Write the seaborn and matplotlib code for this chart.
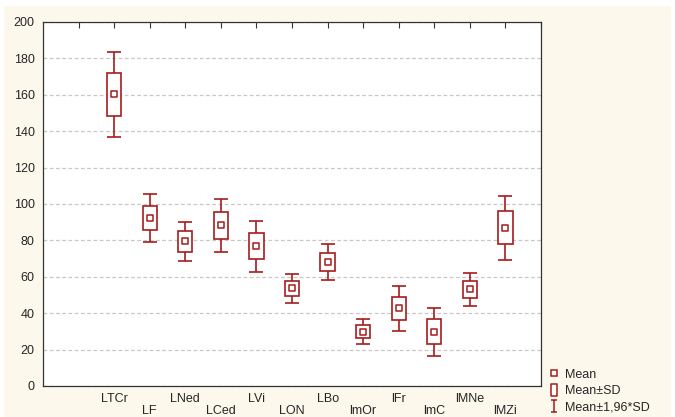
import matplotlib
matplotlib.use("Agg")
import matplotlib.pyplot as plt
import matplotlib.patches as mpatches
from matplotlib.lines import Line2D
from matplotlib.path import Path
import numpy as np
import pandas as pd
import seaborn as sns

# values (mean and standard deviation per variable)
labels = ["LTCr", "LF", "LNed", "LCed", "LVi", "LON",
          "LBo", "lmOr", "lFr", "lmC", "lMNe", "lMZi"]
means = [160.2, 92.3, 79.4, 88.2, 76.8, 53.7,
         68.2, 29.8, 42.6, 29.8, 53.1, 87.0]
sds = [12.0, 6.8, 5.6, 7.5, 7.1, 4.0,
       5.1, 3.5, 6.2, 6.8, 4.6, 9.0]

RED = "#a51c1c"
CREAM = "#fdf8ec"

df = pd.DataFrame({"label": labels, "mean": means, "sd": sds})
df["pos"] = np.arange(len(df))

sns.set_style("white")
plt.rcParams["font.family"] = ["Liberation Sans", "DejaVu Sans"]

fig = plt.figure(figsize=(6.75, 4.17), dpi=100)
fig.patch.set_facecolor("white")
fig.patches.append(mpatches.Rectangle((4 / 675, 0), 667 / 675, 1 - 6 / 417,
                                      transform=fig.transFigure, facecolor=CREAM,
                                      edgecolor="none", zorder=-10))
ax = fig.add_axes([43 / 675, 31 / 417, 498 / 675, 364 / 417])
ax.set_facecolor("white")

# whiskers: mean +/- 1.96*SD
ax.errorbar(df["pos"], df["mean"], yerr=1.96 * df["sd"], fmt="none",
            ecolor=RED, elinewidth=1.2, capsize=5, capthick=1.2, zorder=2)
# boxes: mean +/- SD
ax.bar(df["pos"], 2 * df["sd"], bottom=df["mean"] - df["sd"], width=0.4,
       color="white", edgecolor=RED, linewidth=1.2, zorder=3)
# means
sns.scatterplot(data=df, x="pos", y="mean", marker="s", s=14, color="white",
                edgecolor=RED, linewidth=1.1, zorder=4, ax=ax, legend=False)

ax.set_xlim(-2, 12)
ax.set_ylim(0, 200)
ax.set_yticks(range(0, 201, 20))
ax.set_xticks(range(-1, 13))
ax.set_xticklabels([""] + [l if i % 2 == 0 else "\n" + l for i, l in enumerate(labels)] + [""],
                   linespacing=1.05)
ax.set_xlabel("")
ax.set_ylabel("")
ax.yaxis.grid(True, linestyle=(0, (3, 2)), color="#c8c8c8", linewidth=0.9)
ax.xaxis.grid(False)
ax.set_axisbelow(True)
ax.tick_params(axis="x", direction="in", length=4, width=0.8, pad=5,
               labelsize=9, top=True, color="#333333")
ax.tick_params(axis="y", direction="out", length=4, width=0.8, pad=2,
               labelsize=9, color="#999999")
for sp in ax.spines.values():
    sp.set_visible(True)
    sp.set_color("#333333")
    sp.set_linewidth(0.9)

# legend
ibar = Path([(-0.5, 1), (0.5, 1), (0, 1), (0, -1), (-0.5, -1), (0.5, -1)],
            [Path.MOVETO, Path.LINETO, Path.MOVETO, Path.LINETO, Path.MOVETO, Path.LINETO])
tallbox = Path([(-0.6, -1), (0.6, -1), (0.6, 1), (-0.6, 1), (-0.6, -1)],
               [Path.MOVETO, Path.LINETO, Path.LINETO, Path.LINETO, Path.CLOSEPOLY])
handles = [
    Line2D([], [], linestyle="none", marker="s", markersize=4, markerfacecolor="white",
           markeredgecolor=RED, markeredgewidth=1.1),
    Line2D([], [], linestyle="none", marker=tallbox, markersize=8, markerfacecolor="white",
           markeredgecolor=RED, markeredgewidth=1.1),
    Line2D([], [], linestyle="none", marker=ibar, markersize=9, markerfacecolor="none",
           markeredgecolor=RED, markeredgewidth=1.1),
]
fig.legend(handles, ["Mean", "Mean±SD", "Mean±1,96*SD"], loc="lower left",
           bbox_to_anchor=(544 / 675, 0.0), frameon=False, fontsize=9,
           handlelength=1.0, handletextpad=0.4, labelspacing=0.35,
           borderaxespad=0.1, borderpad=0.2)

fig.savefig("out.png", dpi=100)
